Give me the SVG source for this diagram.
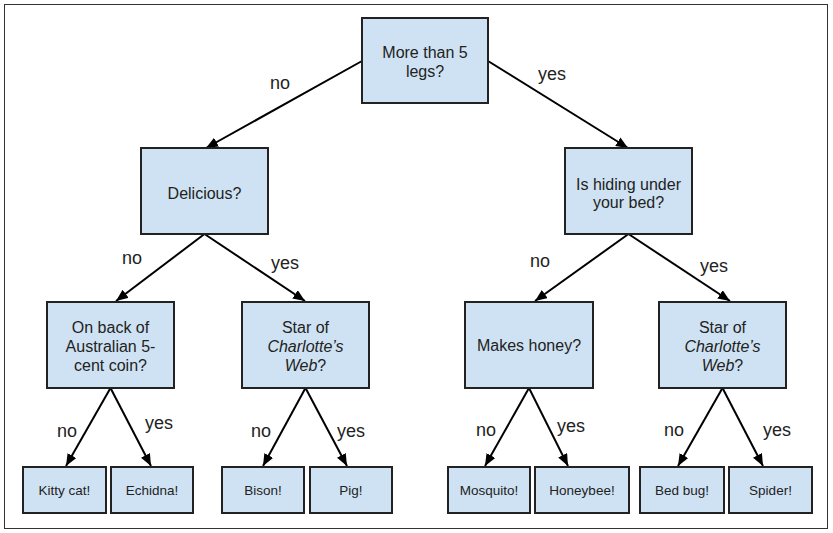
<svg xmlns="http://www.w3.org/2000/svg" width="833" height="533" viewBox="0 0 833 533">
<style>
  .frame { fill: #ffffff; stroke: #333333; stroke-width: 1; }
  .box { fill: #cfe2f3; stroke: #222222; stroke-width: 2; }
  .t { font-family: "Liberation Sans", Arial, sans-serif; font-size: 16px; fill: #222222; text-anchor: middle; }
  .leaf { font-size: 13.5px; }
  .lbl { font-family: "Liberation Sans", Arial, sans-serif; font-size: 18px; fill: #222222; text-anchor: middle; }
  .edge { stroke: #000000; stroke-width: 2; fill: none; marker-end: url(#arr); }
  .i { font-style: italic; }
</style>
<defs>
  <marker id="arr" markerUnits="userSpaceOnUse" markerWidth="12" markerHeight="10" refX="12" refY="5" orient="auto">
    <path d="M0,0 L12,5 L0,10 z" fill="#000000"/>
  </marker>
</defs>
<rect class="frame" x="4.5" y="4.5" width="823" height="524"/>

<g id="connectors">
  <line class="edge" x1="362" y1="61" x2="206" y2="148"/>
  <line class="edge" x1="488" y1="61" x2="628" y2="148"/>
  <line class="edge" x1="204.5" y1="234" x2="116" y2="301"/>
  <line class="edge" x1="204.5" y1="234" x2="305" y2="301"/>
  <line class="edge" x1="628.5" y1="234" x2="535" y2="301"/>
  <line class="edge" x1="628.5" y1="234" x2="730" y2="301"/>
  <line class="edge" x1="110.5" y1="388" x2="66" y2="466"/>
  <line class="edge" x1="110.5" y1="388" x2="151" y2="466"/>
  <line class="edge" x1="305.5" y1="388" x2="263" y2="466"/>
  <line class="edge" x1="305.5" y1="388" x2="347" y2="466"/>
  <line class="edge" x1="529" y1="388" x2="485" y2="466"/>
  <line class="edge" x1="529" y1="388" x2="568" y2="466"/>
  <line class="edge" x1="722.5" y1="388" x2="678" y2="466"/>
  <line class="edge" x1="722.5" y1="388" x2="763" y2="466"/>
</g>

<g id="edge-labels">
  <text class="lbl" x="280" y="89">no</text>
  <text class="lbl" x="552" y="80">yes</text>
  <text class="lbl" x="132" y="264">no</text>
  <text class="lbl" x="285" y="269">yes</text>
  <text class="lbl" x="540" y="267">no</text>
  <text class="lbl" x="714" y="272">yes</text>
  <text class="lbl" x="67" y="437">no</text>
  <text class="lbl" x="159" y="429">yes</text>
  <text class="lbl" x="261" y="437">no</text>
  <text class="lbl" x="351" y="437">yes</text>
  <text class="lbl" x="486" y="436">no</text>
  <text class="lbl" x="571" y="432">yes</text>
  <text class="lbl" x="674" y="436">no</text>
  <text class="lbl" x="777" y="436">yes</text>
</g>

<g id="n-root">
  <rect class="box" x="362" y="18" width="126" height="85"/>
  <text class="t" x="425" y="58">More than 5</text>
  <text class="t" x="425" y="76.5">legs?</text>
</g>
<g id="n-delicious">
  <rect class="box" x="141" y="148" width="127" height="86"/>
  <text class="t" x="204.5" y="199">Delicious?</text>
</g>
<g id="n-hiding">
  <rect class="box" x="565" y="148" width="127" height="86"/>
  <text class="t" x="628.5" y="190">Is hiding under</text>
  <text class="t" x="628.5" y="207.5">your bed?</text>
</g>
<g id="n-coin">
  <rect class="box" x="47" y="302" width="127" height="86"/>
  <text class="t" x="110.5" y="332.5">On back of</text>
  <text class="t" x="110.5" y="351.5">Australian 5-</text>
  <text class="t" x="110.5" y="370.5">cent coin?</text>
</g>
<g id="n-star1">
  <rect class="box" x="242" y="302" width="127" height="86"/>
  <text class="t" x="305.5" y="332.5">Star of</text>
  <text class="t i" x="305.5" y="351.5">Charlotte’s</text>
  <text class="t" x="305.5" y="370.5"><tspan class="i">Web</tspan>?</text>
</g>
<g id="n-honey">
  <rect class="box" x="465" y="302" width="128" height="86"/>
  <text class="t" x="529" y="351">Makes honey?</text>
</g>
<g id="n-star2">
  <rect class="box" x="659" y="302" width="127" height="86"/>
  <text class="t" x="722.5" y="332.5">Star of</text>
  <text class="t i" x="722.5" y="351.5">Charlotte’s</text>
  <text class="t" x="722.5" y="370.5"><tspan class="i">Web</tspan>?</text>
</g>

<g id="l-kitty">
  <rect class="box" x="23" y="467" width="83" height="46"/>
  <text class="t leaf" x="64.5" y="495">Kitty cat!</text>
</g>
<g id="l-echidna">
  <rect class="box" x="111" y="467" width="82" height="46"/>
  <text class="t leaf" x="152" y="495">Echidna!</text>
</g>
<g id="l-bison">
  <rect class="box" x="222" y="467" width="82" height="46"/>
  <text class="t leaf" x="263" y="495">Bison!</text>
</g>
<g id="l-pig">
  <rect class="box" x="310" y="467" width="82" height="46"/>
  <text class="t leaf" x="351" y="495">Pig!</text>
</g>
<g id="l-mosquito">
  <rect class="box" x="448" y="467" width="82" height="46"/>
  <text class="t leaf" x="489" y="495">Mosquito!</text>
</g>
<g id="l-honeybee">
  <rect class="box" x="535" y="467" width="94" height="46"/>
  <text class="t leaf" x="582" y="495">Honeybee!</text>
</g>
<g id="l-bedbug">
  <rect class="box" x="640" y="467" width="84" height="46"/>
  <text class="t leaf" x="682" y="495">Bed bug!</text>
</g>
<g id="l-spider">
  <rect class="box" x="729" y="467" width="83" height="46"/>
  <text class="t leaf" x="770.5" y="495">Spider!</text>
</g>
</svg>
